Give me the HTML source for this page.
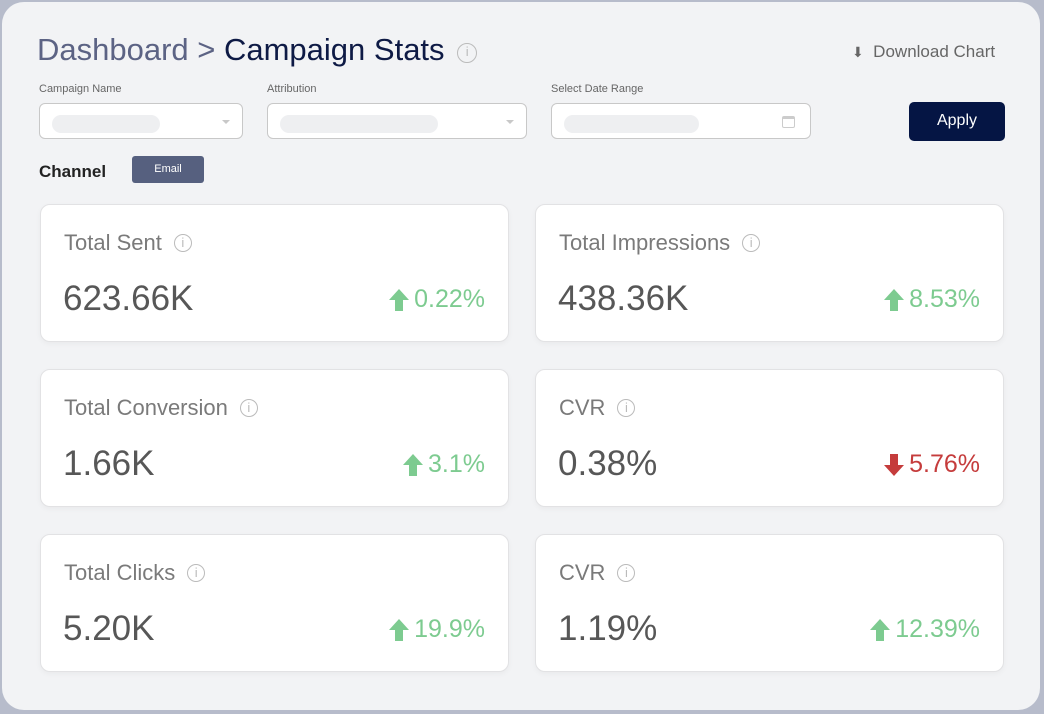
<!DOCTYPE html>
<html><head><style>
body{margin:0;width:1044px;height:714px;background:#b7bccb;font-family:"Liberation Sans",sans-serif;position:relative;overflow:hidden}
.panel{position:absolute;left:2px;top:2px;width:1038px;height:708px;background:#f2f3f5;border-radius:22px}
.abs{position:absolute}
.lbl{font-size:11px;color:#666}
.sel{position:absolute;height:36px;background:#fff;border:1px solid #c8c8c8;border-radius:6px;box-sizing:border-box}
.pill{position:absolute;left:12px;top:11px;height:18px;background:#eeeff1;border-radius:9px}
.caret{position:absolute;right:12px;top:16px;width:0;height:0;border-left:4px solid transparent;border-right:4px solid transparent;border-top:4px solid #c8c8c8}
.card{position:absolute;width:469px;height:138px;background:#fff;border:1px solid #e2e2e4;border-radius:10px;box-sizing:border-box;box-shadow:0 2px 6px rgba(0,0,0,.04)}
.t{position:absolute;left:23px;top:25px;font-size:22px;color:#7a7a7a}
.i{display:inline-block;width:18px;height:18px;border:1.5px solid #bbb;border-radius:50%;color:#bbb;font-size:13px;text-align:center;vertical-align:3px;margin-left:12px;box-sizing:border-box;line-height:15px}
.v{position:absolute;left:22px;top:74px;font-size:35px;color:#575757}
.c{position:absolute;right:23px;top:80px;font-size:25px;color:#7dcb90;display:flex;align-items:center;gap:4px}
.c.r{color:#c53c3c}
.c svg{width:22px;height:24px}
</style></head><body>
<div class="panel">
<div class="abs" style="left:35px;top:30px;font-size:31px;color:#5c6384">Dashboard &gt; <span style="color:#0e1a45">Campaign Stats</span> <span class="i" style="width:20px;height:20px;vertical-align:4px;margin-left:4px">i</span></div>
<div class="abs" style="left:850px;top:40px;font-size:17px;color:#666"><span style="font-size:14px">⬇</span>&nbsp; Download Chart</div>
<div class="abs lbl" style="left:37px;top:81px">Campaign Name</div>
<div class="abs lbl" style="left:265px;top:81px">Attribution</div>
<div class="abs lbl" style="left:549px;top:81px">Select Date Range</div>
<div class="sel" style="left:37px;top:101px;width:204px"><div class="pill" style="width:108px"></div><div class="caret"></div></div>
<div class="sel" style="left:265px;top:101px;width:260px"><div class="pill" style="width:158px"></div><div class="caret"></div></div>
<div class="sel" style="left:549px;top:101px;width:260px"><div class="pill" style="width:135px"></div><div class="abs" style="right:15px;top:12px;width:13px;height:12px;border:1.5px solid #ccc;border-top-width:3px;border-radius:2px;box-sizing:border-box"></div></div>
<div class="abs" style="left:907px;top:100px;width:96px;height:39px;background:#051544;border-radius:5px;color:#fff;font-size:16px;text-align:center;line-height:38px">Apply</div>
<div class="abs" style="left:37px;top:160px;font-size:17px;color:#222;font-weight:bold;-webkit-text-stroke:0">Channel</div>
<div class="abs" style="left:130px;top:154px;width:72px;height:27px;background:#56607f;border-radius:3px;color:#fff;font-size:11px;text-align:center;line-height:27px">Email</div>
<div class="card" style="left:38px;top:202px"><div class="t">Total Sent<span class="i">i</span></div><div class="v">623.66K</div><div class="c"><svg viewBox="0 0 22 24"><path d="M11 1L21 12H15V23H7V12H1Z" fill="currentColor"/></svg>0.22%</div></div>
<div class="card" style="left:533px;top:202px"><div class="t">Total Impressions<span class="i">i</span></div><div class="v">438.36K</div><div class="c"><svg viewBox="0 0 22 24"><path d="M11 1L21 12H15V23H7V12H1Z" fill="currentColor"/></svg>8.53%</div></div>
<div class="card" style="left:38px;top:367px"><div class="t">Total Conversion<span class="i">i</span></div><div class="v">1.66K</div><div class="c"><svg viewBox="0 0 22 24"><path d="M11 1L21 12H15V23H7V12H1Z" fill="currentColor"/></svg>3.1%</div></div>
<div class="card" style="left:533px;top:367px"><div class="t">CVR<span class="i">i</span></div><div class="v">0.38%</div><div class="c r"><svg viewBox="0 0 22 24"><path d="M11 23L21 12H15V1H7V12H1Z" fill="currentColor"/></svg>5.76%</div></div>
<div class="card" style="left:38px;top:532px"><div class="t">Total Clicks<span class="i">i</span></div><div class="v">5.20K</div><div class="c"><svg viewBox="0 0 22 24"><path d="M11 1L21 12H15V23H7V12H1Z" fill="currentColor"/></svg>19.9%</div></div>
<div class="card" style="left:533px;top:532px"><div class="t">CVR<span class="i">i</span></div><div class="v">1.19%</div><div class="c"><svg viewBox="0 0 22 24"><path d="M11 1L21 12H15V23H7V12H1Z" fill="currentColor"/></svg>12.39%</div></div>
</div>
</body></html>
